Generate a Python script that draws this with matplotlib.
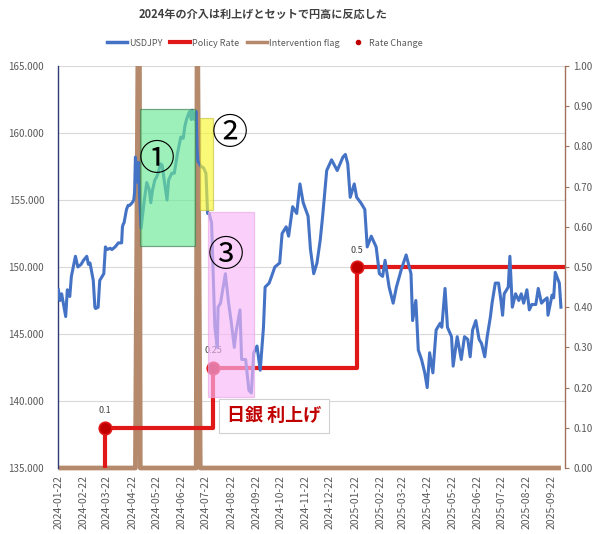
import numpy as np
import pandas as pd
import matplotlib
matplotlib.use("Agg")
import matplotlib.pyplot as plt
import matplotlib.dates as mdates
from matplotlib.patches import Rectangle

plt.rcParams['font.family'] = ['Noto Sans CJK JP', 'DejaVu Sans']

# USDJPY daily close
usd_dates = [
    "2024-01-22", "2024-01-24", "2024-01-26", "2024-01-31", "2024-02-02", "2024-02-05", "2024-02-07",
    "2024-02-12", "2024-02-15", "2024-02-19", "2024-02-22", "2024-02-26", "2024-02-28", "2024-03-01",
    "2024-03-05", "2024-03-07", "2024-03-08", "2024-03-11", "2024-03-13", "2024-03-18", "2024-03-20",
    "2024-03-22", "2024-03-26", "2024-03-28", "2024-04-01", "2024-04-05", "2024-04-09", "2024-04-10",
    "2024-04-11", "2024-04-12", "2024-04-15", "2024-04-17", "2024-04-19", "2024-04-22", "2024-04-24",
    "2024-04-25", "2024-04-26", "2024-04-29", "2024-04-30", "2024-05-01", "2024-05-03", "2024-05-07",
    "2024-05-10", "2024-05-13", "2024-05-15", "2024-05-17", "2024-05-20", "2024-05-22", "2024-05-24",
    "2024-05-27", "2024-05-29", "2024-05-31", "2024-06-04", "2024-06-06", "2024-06-10", "2024-06-13",
    "2024-06-14", "2024-06-17", "2024-06-21", "2024-06-24", "2024-06-26", "2024-06-28", "2024-07-01",
    "2024-07-02", "2024-07-04", "2024-07-05", "2024-07-08", "2024-07-10", "2024-07-11", "2024-07-12",
    "2024-07-16", "2024-07-19", "2024-07-22", "2024-07-23", "2024-07-24", "2024-07-26", "2024-07-29",
    "2024-07-31", "2024-08-02", "2024-08-05", "2024-08-06", "2024-08-09", "2024-08-15", "2024-08-19",
    "2024-08-22", "2024-08-26", "2024-08-28", "2024-09-02", "2024-09-04", "2024-09-09", "2024-09-13",
    "2024-09-16", "2024-09-19", "2024-09-23", "2024-09-27", "2024-10-01", "2024-10-03", "2024-10-08",
    "2024-10-11", "2024-10-15", "2024-10-21", "2024-10-24", "2024-10-29", "2024-11-01", "2024-11-06",
    "2024-11-11", "2024-11-15", "2024-11-19", "2024-11-25", "2024-11-28", "2024-12-02", "2024-12-06",
    "2024-12-10", "2024-12-13", "2024-12-18", "2024-12-24", "2024-12-31", "2025-01-07", "2025-01-10",
    "2025-01-13", "2025-01-16", "2025-01-21", "2025-01-24", "2025-01-29", "2025-02-03", "2025-02-06",
    "2025-02-11", "2025-02-17", "2025-02-21", "2025-02-25", "2025-02-28", "2025-03-05", "2025-03-10",
    "2025-03-14", "2025-03-20", "2025-03-26", "2025-04-01", "2025-04-03", "2025-04-07", "2025-04-10",
    "2025-04-14", "2025-04-18", "2025-04-21", "2025-04-24", "2025-04-28", "2025-05-02", "2025-05-07",
    "2025-05-09", "2025-05-13", "2025-05-16", "2025-05-21", "2025-05-23", "2025-05-28", "2025-06-02",
    "2025-06-06", "2025-06-10", "2025-06-13", "2025-06-16", "2025-06-20", "2025-06-24", "2025-06-27",
    "2025-07-01", "2025-07-04", "2025-07-08", "2025-07-10", "2025-07-14", "2025-07-18", "2025-07-21",
    "2025-07-23", "2025-07-25", "2025-07-30", "2025-08-01", "2025-08-04", "2025-08-08", "2025-08-12",
    "2025-08-15", "2025-08-18", "2025-08-22", "2025-08-25", "2025-08-28", "2025-09-02", "2025-09-05",
    "2025-09-09", "2025-09-12", "2025-09-16", "2025-09-17", "2025-09-22", "2025-09-24", "2025-09-26",
    "2025-10-01", "2025-10-03",
]
usd_values = [
    148.3, 147.5, 148.0, 146.3, 148.3, 147.8, 149.3,
    150.8, 150.0, 150.2, 150.5, 150.8, 150.2, 150.3,
    149.0, 147.0, 146.9, 147.0, 149.0, 149.5, 151.5,
    151.3, 151.4, 151.3, 151.5, 151.8, 151.8, 153.0,
    153.2, 153.3, 154.3, 154.6, 154.6, 154.8, 155.0,
    155.6, 158.2, 156.3, 157.8, 155.5, 152.9, 155.0,
    156.3, 155.8, 154.8, 155.7, 156.5, 156.7, 157.0,
    157.7, 157.6, 156.7, 155.0, 156.5, 157.0, 157.0,
    157.4, 158.5, 159.7, 159.6, 160.5, 161.0, 161.5,
    161.6, 161.0, 161.7, 161.0, 161.6, 158.9, 157.9,
    157.5, 157.4, 157.0, 155.6, 154.0, 154.0, 153.3,
    149.5, 145.5, 144.0, 147.0, 147.3, 149.5, 147.3,
    146.0, 144.0, 145.1, 146.8, 143.1, 143.1, 140.8,
    140.6, 143.6, 144.1, 142.3, 145.5, 148.5, 148.8,
    149.3, 150.0, 150.3, 152.5, 153.0, 152.3, 154.5,
    154.0, 156.2, 154.8, 153.8, 151.3, 149.5, 150.3,
    152.0, 153.8, 157.2, 158.0, 157.2, 158.2, 158.4,
    157.7, 155.2, 156.2, 155.2, 154.8, 154.3, 151.5,
    152.3, 151.5, 149.5, 149.3, 150.5, 148.5, 147.3,
    148.5, 149.8, 150.9, 149.5, 146.0, 147.5, 143.8,
    143.1, 142.1, 141.0, 143.6, 142.1, 145.3, 145.8,
    145.5, 148.4, 145.5, 144.8, 142.6, 144.8, 143.1,
    144.8, 144.6, 143.3, 145.3, 146.0, 144.6, 144.3,
    143.3, 144.8, 146.3, 147.3, 148.8, 148.8, 147.5,
    146.4, 148.0, 148.5, 150.8, 147.0, 148.0, 147.5,
    148.0, 147.3, 148.3, 146.8, 147.2, 147.2, 148.4,
    147.3, 147.5, 147.7, 146.4, 147.9, 147.7, 149.6,
    148.8, 147.0,
]

# BOJ policy rate (step changes)
rate_dates = ["2024-01-22", "2024-03-19", "2024-07-31", "2025-01-24", "2025-10-08"]
rate_values = [-0.1, 0.1, 0.25, 0.5, 0.5]

# rate change points
change_dates = ["2024-03-19", "2024-07-31", "2025-01-24"]
change_values = [0.1, 0.25, 0.5]

# intervention flag (1 on intervention days)
flag_dates = ["2024-01-22", "2024-04-26", "2024-04-29", "2024-05-01", "2024-05-02",
              "2024-07-10", "2024-07-11", "2024-07-12", "2024-07-15", "2025-10-03"]
flag_values = [0, 0, 1, 1, 0, 0, 1, 1, 0, 0]

# highlight boxes
box_starts = ["2024-05-02", "2024-07-15", "2024-07-24"]
box_ends = ["2024-07-08", "2024-07-31", "2024-09-19"]
box_lows = [151.6, 154.25, 140.3]
box_highs = [161.8, 161.1, 154.1]
box_colors = ['#69e994', '#f8f830', '#f8b8f8']
box_edges = ['#3c7a50', '#c8c040', '#e8a8e8']
box_labels = ["①", "②", "③"]
label_dates = ["2024-05-22", "2024-08-21", "2024-08-16"]
label_values = [158.0, 159.9, 150.8]

blue = '#4472c4'
red = '#e01818'
brown = '#b58a6c'
gray = '#595959'

usd_d = pd.to_datetime(usd_dates)
rate_n = mdates.date2num(pd.to_datetime(rate_dates))
chg_n = mdates.date2num(pd.to_datetime(change_dates))
flag_n = mdates.date2num(pd.to_datetime(flag_dates))

fig = plt.figure(figsize=(6.0, 5.34), dpi=100)
ax = fig.add_axes([58 / 600, 1 - 468 / 534, 507 / 600, 402 / 534])
ax2 = ax.twinx()

ax.set_zorder(2)
ax.patch.set_visible(False)

# secondary axis: flag + policy rate
flag_line, = ax2.plot(flag_n, flag_values, color=brown, lw=3.4, zorder=1,
                      solid_joinstyle='round', solid_capstyle='butt')
# let the zero line show fully at the bottom edge, but stop at the top
flag_line.set_clip_path(Rectangle((0, -0.05), 1, 1.05, transform=ax2.transAxes))
ax2.plot(rate_n, rate_values, color=red, lw=3.0, drawstyle='steps-post', zorder=2)
ax2.plot(chg_n, change_values, 'o', ms=9, color='#c00000', mec=red, mew=1.2, zorder=3)
for d, v in zip(chg_n, change_values):
    ax2.annotate(f"{v:g}", (d, v), xytext=(0, 9), textcoords='offset points',
                 ha='center', va='bottom', fontsize=6.5, color='#404040')
ax2.set_ylim(0, 1)
ax2.set_yticks(np.arange(0, 1.01, 0.1))
ax2.yaxis.set_major_formatter(plt.FormatStrFormatter('%.2f'))

# primary axis: USDJPY
ax.plot(usd_d, usd_values, color=blue, lw=2.2, zorder=3)
ax.set_ylim(135, 165)
ax.set_yticks(np.arange(135, 165.1, 5))
ax.yaxis.set_major_formatter(plt.FormatStrFormatter('%.3f'))

# gridlines on the back axes so they sit under everything
for v in np.arange(140, 165.1, 5):
    ax2.axhline((v - 135) / 30, color='#d9d9d9', lw=0.8, zorder=0)

# highlight boxes
for s, e, lo, hi, c, ec in zip(box_starts, box_ends, box_lows, box_highs, box_colors, box_edges):
    s_n = mdates.date2num(pd.Timestamp(s))
    e_n = mdates.date2num(pd.Timestamp(e))
    ax.add_patch(Rectangle((s_n, lo), e_n - s_n, hi - lo, facecolor=c, alpha=0.65,
                           edgecolor=ec, lw=0.9, zorder=5))
for lab, d, v in zip(box_labels, label_dates, label_values):
    ax.text(pd.Timestamp(d), v, lab, fontsize=26, ha='center', va='center',
            color='black', zorder=8)

ax.text(pd.Timestamp("2024-10-14"), 138.9, "日銀 利上げ", fontsize=13, fontweight='bold',
        color='#c00000', ha='center', va='center', zorder=8,
        bbox=dict(boxstyle='square,pad=0.42', facecolor='white', edgecolor='#d0d0d0', lw=0.8))

# x axis
ax.set_xlim(pd.Timestamp("2024-01-21 12:00"), pd.Timestamp("2025-10-08"))
ax.xaxis.set_major_locator(mdates.MonthLocator(bymonthday=22))
ax.xaxis.set_major_formatter(mdates.DateFormatter('%Y-%m-%d'))
for lbl in ax.get_xticklabels():
    lbl.set_rotation(90)

ax.tick_params(axis='x', length=0, labelsize=7.5, labelcolor=gray, pad=5)
ax.tick_params(axis='y', length=0, labelsize=7, labelcolor=gray, pad=10)
ax2.tick_params(axis='y', length=3, color='#a0705a', labelsize=7, labelcolor=gray, pad=3)

for a in (ax, ax2):
    a.spines['top'].set_visible(False)
    a.spines['bottom'].set_visible(False)
ax.spines['right'].set_visible(False)
ax.spines['left'].set_color('#2f3a78')
ax.spines['left'].set_linewidth(1.0)
ax2.spines['left'].set_visible(False)
ax2.spines['right'].set_color('#a0705a')
ax2.spines['right'].set_linewidth(1.0)

# title and legend
fig.text(263 / 600, 1 - 14 / 534, "2024年の介入は利上げとセットで円高に反応した",
         ha='center', va='center', fontsize=8, fontweight='bold', color='#404040')

handles = [
    plt.Line2D([], [], color=blue, lw=2.5),
    plt.Line2D([], [], color=red, lw=3.0),
    plt.Line2D([], [], color=brown, lw=2.5),
    plt.Line2D([], [], color='#c00000', marker='o', ms=3, lw=0),
]
fig.legend(handles, ["USDJPY", "Policy Rate", "Intervention flag", "Rate Change"],
           loc='center', bbox_to_anchor=(265 / 600, 1 - 43 / 534), ncol=4, frameon=False,
           fontsize=6.5, labelcolor=gray, handlelength=2.2, handletextpad=0.2,
           columnspacing=0.9)

fig.savefig("out.png", dpi=100)
